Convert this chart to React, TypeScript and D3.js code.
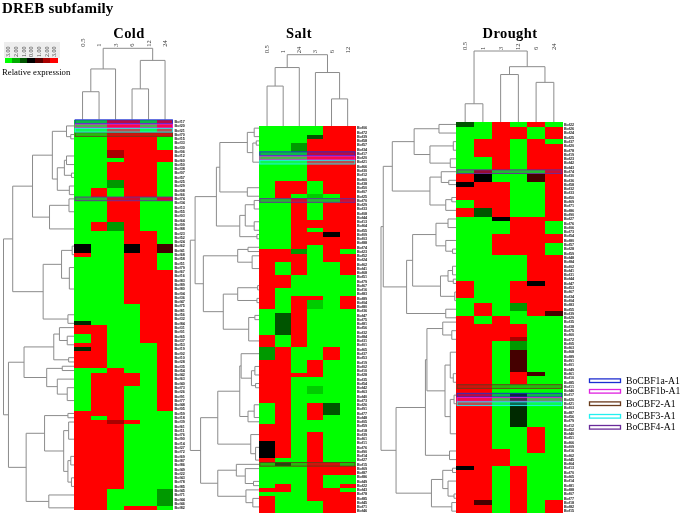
import React from "react";
import * as d3 from "d3";

type Tree = number | (number | Tree)[];
type Run = [number, string];

// heat scale legend
const heatTicks = [-3, -2, -1, 0, 1, 2, 3];
const genes = ["BoCBF1a-A1", "BoCBF1b-A1", "BoCBF2-A1", "BoCBF3-A1", "BoCBF4-A1"];

// cell codes used in the run tables below
const codeValues: Record<string, number> = { G: -3, L: -2.4, m: -1.8, d: -1, e: -0.5, k: 0, x: 0.8, y: 2, R: 3 };

// cold: [number of rows, one code per time point]
const coldTimes = ["0.5", "1", "3", "6", "12", "24"];
const coldRuns: Run[] = [
  [3, "GGRRGR"], [1, "GGRRRR"], [3, "GGRRRG"], [2, "GGyRRR"], [1, "GGGRRR"], [4, "GGRRRG"],
  [2, "GGmRRG"], [2, "GRGRRG"], [1, "GGRRGR"], [5, "GGRRGG"], [2, "GRmRGG"], [3, "GGGRRG"],
  [2, "kGGkRx"], [1, "RGGRRG"], [3, "GGGRRG"], [8, "GGGRRR"], [4, "GGGGRR"], [1, "eGGGRR"],
  [2, "RRGGRR"], [2, "GRGGRR"], [1, "RRGGGR"], [1, "eRGGGR"], [4, "RRGGGR"], [1, "GGRGGR"],
  [3, "GRRRGR"], [6, "GRRGGR"], [1, "RRRGGG"], [1, "RGRGGG"], [1, "RRyRGG"], [15, "RRRGGG"],
  [4, "RRGGGm"], [1, "RRGRRG"],
];
const coldIds =
  "17 20 21 70 15 33 30 06 12 60 50 38 07 57 25 29 08 66 74 34 13 55 03 64 09 88 23 52 24 62 41 68 58 51 79 67 16 83 89 80 04 36 47 75 81 56 32 84 31 01 65 37 53 19 02 10 28 35 54 42 63 40 73 26 91 77 48 05 59 18 39 61 11 76 90 14 27 72 69 87 86 49 22 43 78 85 45 71 44 46 82";

const saltTimes = ["0.5", "1", "24", "3", "6", "12"];
const saltRuns: Run[] = [
  [2, "GGGGRR"], [1, "GGGdRR"], [1, "GGGRRR"], [2, "GGmRRR"], [7, "GGGRRR"], [3, "GRRGRR"],
  [1, "GRGLGR"], [1, "GGRGGR"], [4, "GGRGRR"], [2, "GGRRRR"], [1, "GGRGRR"], [1, "GGRRkR"],
  [2, "GGRRRR"], [1, "GGRGRR"], [1, "RRmGRG"], [2, "RRRGRR"], [3, "RGRGGR"], [3, "RRGGGG"],
  [2, "RGGGGG"], [1, "RGRRGR"], [2, "RGRLGR"], [1, "GGRGGG"], [5, "GdRGGG"], [3, "RGRGGG"],
  [3, "mRGGRG"], [3, "RRGRGG"], [1, "RRRRGG"], [2, "RRGGGG"], [2, "RRGLGG"], [2, "RRGGGG"],
  [3, "GRGRdG"], [1, "GRGRGG"], [1, "GRGGGG"], [2, "RRGGGG"], [2, "RRGRGG"], [4, "kRGRGG"],
  [1, "RGGRGG"], [1, "GdGRRG"], [2, "GGGRRR"], [2, "GGGRGG"], [1, "GRGRGR"], [1, "RRGRRG"],
  [1, "GGGRRR"], [1, "RGGRRR"], [3, "RGGGRR"],
];
const saltIds =
  "06 72 39 58 57 34 17 20 21 66 30 12 60 38 50 07 25 70 29 33 08 44 13 64 55 09 03 88 74 23 52 24 62 41 68 51 79 67 16 83 89 04 80 36 47 75 81 56 32 84 31 01 65 37 53 19 02 10 28 35 54 42 63 40 73 26 91 77 48 05 59 18 39 61 11 76 90 14 27 15 69 87 86 49 22 43 78 85 45 71 46";

const droughtTimes = ["0.5", "1", "3", "12", "6", "24"];
const droughtRuns: Run[] = [
  [1, "dGRGRG"], [3, "GGRRGR"], [1, "GRRGRG"], [3, "GRRGRR"], [3, "GGRGRR"], [1, "GyGGGR"],
  [2, "RkGGxR"], [1, "kRRGGR"], [3, "RRRGGR"], [2, "GRRGGR"], [2, "RdRGGR"], [1, "GGkRRR"],
  [3, "GGGRRG"], [2, "GGRRRR"], [3, "GGRRRG"], [6, "GGGGRR"], [1, "RGGRkR"], [3, "RGGRRR"],
  [1, "GGGRRR"], [2, "GRGmRR"], [1, "GRGGRx"], [2, "RGRGGG"], [3, "RRRRGG"], [1, "RRRyGG"],
  [2, "RRGmGG"], [5, "RRGxGG"], [1, "RRGRxG"], [2, "RRGRGG"], [2, "RRGGGG"], [8, "RRGeGG"],
  [5, "RRGGRG"], [1, "RRRGRG"], [3, "RRRGGG"], [1, "kRGRGG"], [7, "RRGRGG"], [1, "RxGRGR"],
  [2, "RRGRGR"],
];
const droughtIds =
  "22 26 24 25 37 20 78 19 23 42 43 74 30 36 58 32 33 50 69 71 86 90 27 76 06 73 54 80 57 28 59 48 84 02 41 31 44 47 53 67 34 04 83 55 39 29 35 38 75 60 72 05 63 68 89 91 01 49 61 10 85 11 46 17 20 21 03 87 56 79 12 52 40 51 66 09 16 62 45 64 13 70 65 14 81 88 07 77 18 82 15";

// rows carrying a gene outline, in the order of `genes`
const coldGeneRows = [0, 1, 3, 2, 18];
const saltGeneRows = [6, 7, 79, 8, 17];
const droughtGeneRows = [63, 64, 61, 65, 11];

// dendrograms: [merge height 0-100, child, child], a bare number is a leaf
const coldColTree: Tree = [100, [71, [39, 0, 1], 2], [83, [43, 3, 4], 5]];
const saltColTree: Tree = [100, [82, [56, 0, 1], 2], [75, 3, [38, 4, 5]]];
const droughtColTree: Tree = [100, [26, 0, 1], [78, [67, 2, 3], [56, 4, 5]]];

const coldRowTree: Tree = [
  100,
  [
    87,
    [59, [31, [11, 1, [5, 3, 4]], [24, [14, [11, 8, 10], [4, 12, 13]], [7, 15, 17]]], [35, [7.5, 18, 21], 25]],
    [44, [18, [3, 29, 31], [7, 34, 39]], [9, 45, 47]],
  ],
  [
    93,
    [71, [29, [21, 48, [10, 50, 52]], [8, 55, 56]], [39, [17, 57, 58], [24, 60, [10, 62, 65]]]],
    [68, [42, [9, 68, 69], [15, [8, 70, 74], [9, [5, 78, 80], [4, 83, 85]]]], [36, 87, 90]],
  ],
];
const saltRowTree: Tree = [
  100,
  [
    93,
    [62, [57, [17, [7, 0, 2], [9, [4, 3, 4], 8]], [17, 14, 16]], [28, [20, [7, 17, 19], [7, 22, 24]], [3, 25, 26]]],
    [81, [31, [16, 28, 29], [10, 30, 33]], [52, [31, [2, 37, 38], [3, 40, 41]], [15, [6, 44, 45], 50]]],
  ],
  [
    85,
    [60, [28, [26, 53, [11, [6, 56, 58], [5, 60, 61]]], [16, [7, 65, 68], 69]], [12, 72, [5, 75, 78]]],
    [60, [33, 79, [20, 80, [8, 83, 84]]], [19, 85, [9, 87, 89]]],
  ],
];
const droughtRowTree: Tree = [
  100,
  [
    97,
    [85, [56, [23, 0, 2], [35, [4, 4, 6], [8, 8, 10]]], [35, [20, 11, [10, 13, 14]], [14, [6, 17, 18], 20]]],
    [66, [58, [27, [11, 22, 24], [14, 27, [5, 29, 30]]], [21, [11, [5, 33, 35], [4, 36, 37]], [2, 39, 41]]], [14, 43, 45]],
  ],
  [
    80,
    [41, [39, [18, 46, [6, 48, 50]], [15, [8, 53, [4, 58, 60]], [8, [3, 63, 65], 72]]], [9, 76, 78]],
    [33, [18, [5, 80, 81], [11, 83, [3, 86, 87]]], [6, 88, 90]],
  ],
];

const SERIF = "'Liberation Serif', serif";
const LINE = "#8c8c8c";
const geneColors = ["#1f2fd0", "#e020e0", "#6b3a1c", "#20f0f0", "#6a2a9a"];

const heatColor = d3.scaleLinear<string>().domain([-3, 0, 3]).range(["#00ff00", "#000000", "#ff0000"]);

// path of a dendrogram, worked out through d3.hierarchy
function treePath(tree: Tree, leafPos: (i: number) => number, height: (h: number) => number, vertical: boolean) {
  const root = d3.hierarchy<Tree>(tree, (d) => (typeof d === "number" ? null : (d.slice(1) as Tree[])));
  const pos = new Map<any, number>();
  const hOf = (n: any) => (typeof n.data === "number" ? 0 : (n.data[0] as number));
  root.eachAfter((n) => {
    pos.set(n, n.children ? d3.mean(n.children, (c) => pos.get(c)) : leafPos(n.data as number));
  });
  const path = d3.path();
  const pt = (p: number, h: number): [number, number] => (vertical ? [p, height(h)] : [height(h), p]);
  root.each((n) => {
    if (!n.children) return;
    const [a, b] = n.children;
    path.moveTo(...pt(pos.get(a), hOf(a)));
    path.lineTo(...pt(pos.get(a), hOf(n)));
    path.lineTo(...pt(pos.get(b), hOf(n)));
    path.lineTo(...pt(pos.get(b), hOf(b)));
  });
  return path.toString();
}

function Panel(props: {
  title: string;
  titleX: number;
  times: string[];
  runs: Run[];
  ids: string;
  geneRows: number[];
  colTree: Tree;
  rowTree: Tree;
  x0: number;
  x1: number;
  y0: number;
  y1: number;
  colTop: number;
  rowRoot: number;
  timeY: number;
}) {
  const { title, titleX, times, runs, ids, geneRows, colTree, rowTree, x0, x1, y0, y1, colTop, rowRoot, timeY } = props;
  const rows = runs.flatMap(([n, codes]) => d3.range(n).map(() => codes));
  const labels = ids.split(" ");
  const xBand = d3.scaleBand<number>().domain(d3.range(6)).range([x0, x1]);
  const yBand = d3.scaleBand<number>().domain(d3.range(rows.length)).range([y0, y1]);
  const colX = (i: number) => xBand(i)! + xBand.bandwidth() / 2;
  const rowY = (i: number) => yBand(i)! + yBand.bandwidth() / 2;
  const colH = d3.scaleLinear().domain([0, 100]).range([y0, colTop]);
  const rowH = d3.scaleLinear().domain([0, 100]).range([x0, rowRoot]);

  return (
    <g>
      <text x={titleX} y={37.5} textAnchor="middle" fontFamily={SERIF} fontWeight="bold" fontSize={14.5} letterSpacing={0.4}>
        {title}
      </text>
      {times.map((t, i) => (
        <text
          key={i}
          transform={`translate(${colX(i) + 2},${timeY}) rotate(-90)`}
          fontFamily={SERIF}
          fontSize={6.5}
          fill="#333"
        >
          {t}
        </text>
      ))}
      <path d={treePath(colTree, colX, colH, true)} fill="none" stroke={LINE} strokeWidth={1} />
      <path d={treePath(rowTree, rowY, rowH, false)} fill="none" stroke={LINE} strokeWidth={1} />
      <g shapeRendering="crispEdges">
        {rows.map((codes, r) =>
          codes.split("").map((c, i) => (
            <rect
              key={`${r}-${i}`}
              x={xBand(i)}
              y={yBand(r)}
              width={xBand.bandwidth()}
              height={yBand.bandwidth()}
              fill={heatColor(codeValues[c])}
            />
          ))
        )}
      </g>
      {rows.map((_, r) => (
        <text key={r} x={x1 + 1.2} y={rowY(r) + 1.3} fontFamily="'Liberation Sans', sans-serif" fontSize={3.7} fontWeight="bold" fill="#222">
          {"Bof" + labels[r]}
        </text>
      ))}
      {geneRows.map((r, g) => (
        <rect
          key={g}
          x={x0 + 0.8}
          y={yBand(r)! + 0.3}
          width={x1 - x0 - 1.6}
          height={yBand.bandwidth() - 0.6}
          fill={geneColors[g]}
          fillOpacity={0.33}
          stroke={geneColors[g]}
          strokeWidth={0.9}
        />
      ))}
    </g>
  );
}

export default function App() {
  const keyBand = d3.scaleBand<number>().domain(heatTicks).range([4.5, 58]);
  const geneY = [380.7, 391.3, 403.7, 416.3, 427.3];

  return (
    <svg width={685} height={515} style={{ position: "absolute", left: 0, top: 0, display: "block" }}>
      <defs>
        <filter id="soft" x="0" y="0" width="1" height="1">
          <feGaussianBlur stdDeviation="0.45" />
        </filter>
      </defs>
      <rect width={685} height={515} fill="#fff" />
      <g filter="url(#soft)">
        <text x={2} y={13} fontFamily={SERIF} fontWeight="bold" fontSize={15} letterSpacing={0.2}>
          DREB subfamily
        </text>

        {/* colour key */}
        <rect x={4} y={42} width={56} height={16} fill="#ededed" />
        {heatTicks.map((t) => (
          <g key={t}>
            <rect x={keyBand(t)} y={58} width={keyBand.bandwidth()} height={5.3} fill={heatColor(t)} shapeRendering="crispEdges" />
            <text
              transform={`translate(${keyBand(t)! + keyBand.bandwidth() / 2 + 2},57) rotate(-90)`}
              fontFamily={SERIF}
              fontSize={6}
              fill="#444"
            >
              {Math.abs(t).toFixed(2)}
            </text>
          </g>
        ))}
        <text x={2} y={75} fontFamily={SERIF} fontSize={8.7}>
          Relative expression
        </text>

        <Panel
          title="Cold"
          titleX={129}
          times={coldTimes}
          runs={coldRuns}
          ids={coldIds}
          geneRows={coldGeneRows}
          colTree={coldColTree}
          rowTree={coldRowTree}
          x0={74.3}
          x1={173.3}
          y0={119.5}
          y1={510}
          colTop={48.3}
          rowRoot={3.5}
          timeY={46.7}
        />
        <Panel
          title="Salt"
          titleX={299}
          times={saltTimes}
          runs={saltRuns}
          ids={saltIds}
          geneRows={saltGeneRows}
          colTree={saltColTree}
          rowTree={saltRowTree}
          x0={259}
          x1={355.7}
          y0={126}
          y1={513.3}
          colTop={54.7}
          rowRoot={190.3}
          timeY={53.3}
        />
        <Panel
          title="Drought"
          titleX={510}
          times={droughtTimes}
          runs={droughtRuns}
          ids={droughtIds}
          geneRows={droughtGeneRows}
          colTree={droughtColTree}
          rowTree={droughtRowTree}
          x0={456.3}
          x1={562.7}
          y0={122.3}
          y1={513.3}
          colTop={51}
          rowRoot={381}
          timeY={50}
        />

        {/* gene legend */}
        {genes.map((g, i) => (
          <g key={g}>
            <rect x={589.5} y={geneY[i] - 1.8} width={31} height={3.6} fill="#fff" stroke={geneColors[i]} strokeWidth={1.3} />
            <text x={626} y={geneY[i] + 3} fontFamily={SERIF} fontSize={9.7}>
              {g}
            </text>
          </g>
        ))}
      </g>
    </svg>
  );
}
